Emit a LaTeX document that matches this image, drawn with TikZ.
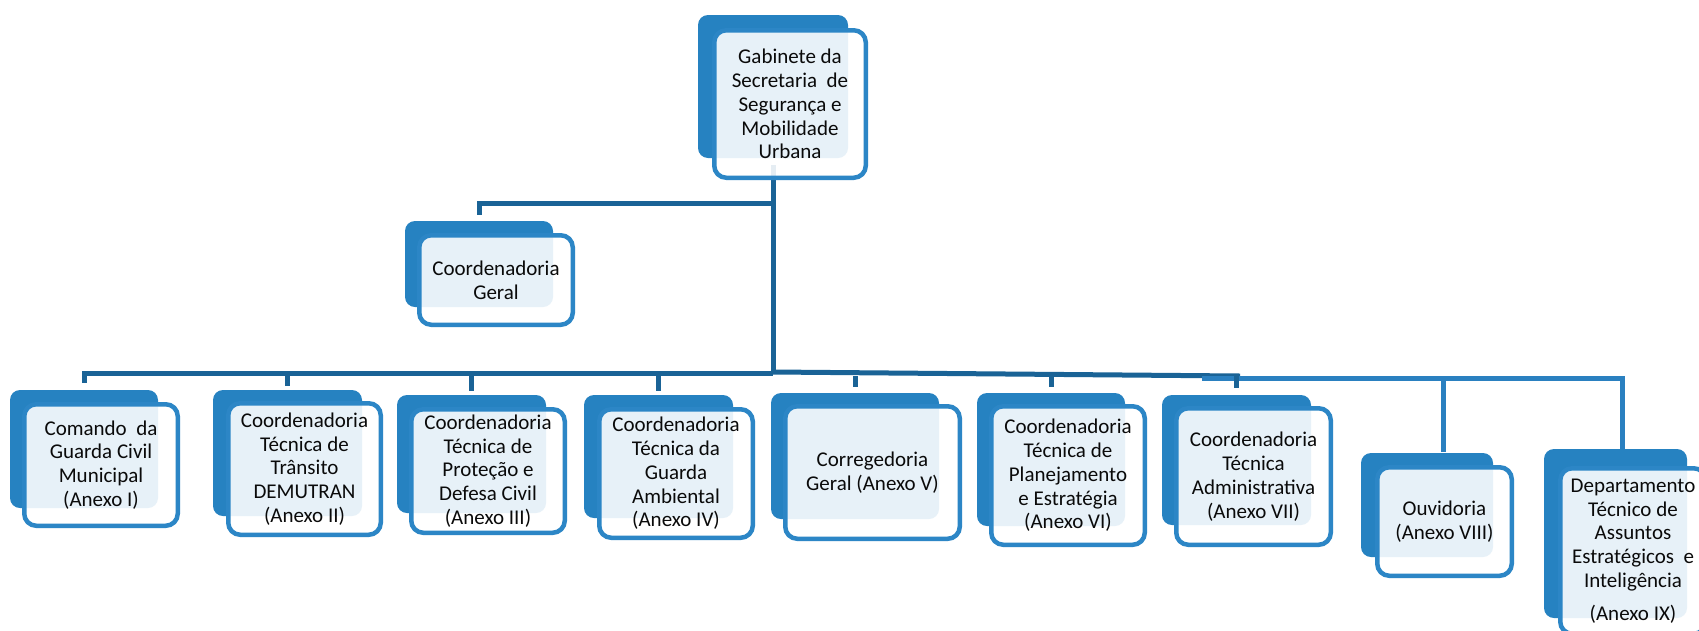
\documentclass[tikz,border=0pt]{standalone}
\usepackage{fontspec}
\setmainfont{Carlito}
\pgfdeclarelayer{bottom}
\pgfdeclarelayer{connlayer}
\pgfsetlayers{bottom,connlayer,main}
\definecolor{backblue}{RGB}{38,130,193}
\definecolor{frontblue}{RGB}{44,134,198}
\definecolor{conndark}{RGB}{26,99,150}
\definecolor{connlight}{RGB}{42,128,192}
\definecolor{txt}{RGB}{10,10,10}
\tikzset{
  backbox/.style={fill=backblue, draw=none, rounded corners=10pt, inner sep=0pt},
  frontbox/.style={draw=frontblue, line width=4.5pt, fill=white, fill opacity=0.89, text opacity=1,
     rounded corners=12pt, inner sep=0pt, align=center, text=txt,
     font=\fontsize{21}{23.8}\selectfont},
  conn/.style={draw=conndark, line width=5pt},
  lconn/.style={draw=connlight, line width=5pt},
}
\def\getfour#1/#2/#3/#4\relax{\def\qa{#1}\def\qb{#2}\def\qc{#3}\def\qd{#4}}
\newcommand\orgbox[4]{%
  \getfour#2\relax
  \pgfmathsetmacro\bcx{(\qa+\qc)/2}\pgfmathsetmacro\bcy{(\qb+\qd)/2}%
  \pgfmathsetmacro\bw{\qc-\qa}\pgfmathsetmacro\bh{\qd-\qb}%
  \node[backbox, minimum width=\bw pt, minimum height=\bh pt] (#1back) at (\bcx,\bcy) {};
  \getfour#3\relax
  \pgfmathsetmacro\bcx{(\qa+\qc)/2}\pgfmathsetmacro\bcy{(\qb+\qd)/2}%
  \pgfmathsetmacro\bw{\qc-\qa-4.5}\pgfmathsetmacro\bh{\qd-\qb-4.5}%
  \node[frontbox, minimum width=\bw pt, minimum height=\bh pt] (#1) at (\bcx,\bcy) {#4};
}
\begin{document}
\begin{tikzpicture}[x=1pt,y=-1pt]
\useasboundingbox (0,0) rectangle (1699,630);
\clip (0,0) rectangle (1699,630);
\begin{pgfonlayer}{bottom}
\fill[white] (0,0) rectangle (1699,630);
\end{pgfonlayer}
% ---- boxes
\orgbox{top}{698/15/848/158}{712/28/868/180}{Gabinete da\\Secretaria\ \ de\\Segurança e\\Mobilidade\\Urbana}
\orgbox{cg}{405/221/553/307}{417/233/575/327}{Coordenadoria\\Geral}
\orgbox{b1}{10/390/158/508}{22/402/180/528}{Comando\ \ da\\Guarda Civil\\Municipal\\(Anexo I)}
\orgbox{b2}{213/390/362/516}{226/401/383/537}{Coordenadoria\\Técnica de\\Trânsito\\DEMUTRAN\\(Anexo II)}
\orgbox{b3}{397/395/546/513}{409/407/567/535}{Coordenadoria\\Técnica de\\Proteção e\\Defesa Civil\\(Anexo III)}
\orgbox{b4}{584/395/733/518}{597/407/755/540}{Coordenadoria\\Técnica da\\Guarda\\Ambiental\\(Anexo IV)}
\orgbox{b5}{771/393/939/519}{783/404/962/541}{Corregedoria\\Geral (Anexo V)}
\orgbox{b6}{977/393/1125/526}{989/404/1147/547}{Coordenadoria\\Técnica de\\Planejamento\\e Estratégia\\(Anexo VI)}
\orgbox{b7}{1162/395/1311/525}{1174/406/1333/547}{Coordenadoria\\Técnica\\Administrativa\\(Anexo VII)}
\orgbox{b8}{1361/453/1493/557}{1375/465/1514/578}{Ouvidoria\\(Anexo VIII)}
\orgbox{b9}{1544/449/1687/618}{1558/466/1708/636}{Departamento\\Técnico de\\Assuntos\\Estratégicos\ \ e\\Inteligência\\[9pt](Anexo IX)}
% ---- junction coordinates
\coordinate (jcg) at (773,203);
\coordinate (jtop) at (773,373);
\coordinate (jright) at (1240,376);
\coordinate (lstart) at (1202,378);
\coordinate (d8) at (1443,452);
\coordinate (d9) at (1622,452);
% ---- connectors (behind boxes)
\begin{pgfonlayer}{connlayer}
\draw[conn] ([yshift=-7pt]topback.south) -- (jtop);
\draw[conn] (jcg) -| ([yshift=6pt]cgback.north);
\draw[conn] ([yshift=7pt]b1back.north) |- (jtop);
\draw[conn] ([yshift=1pt]jtop) -- (jright);
\foreach \b in {b2,b3,b4}{\draw[conn] ([yshift=4pt]\b back.north) -- (\b back.north |- jtop);}
\foreach \b in {b5,b6}{\draw[conn] ([yshift=6pt]\b back.north) -- (\b back.north |- jright);}
\draw[lconn] (lstart) -| (d9);
\draw[lconn] (d8) -- (d8 |- lstart);
\draw[conn,line width=4.5pt] ([yshift=7pt]b7back.north) -- (b7back.north |- jright);
\end{pgfonlayer}
\end{tikzpicture}
\end{document}
